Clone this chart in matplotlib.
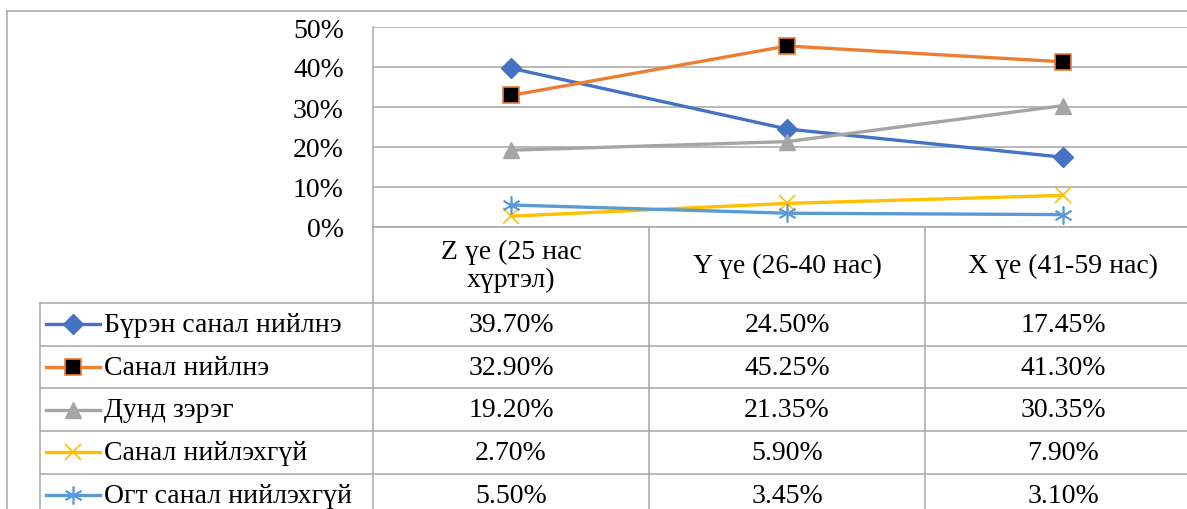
import matplotlib
matplotlib.use("Agg")
import matplotlib.pyplot as plt
from matplotlib.lines import Line2D

plt.rcParams['font.family'] = ['Liberation Serif', 'DejaVu Serif']

# data
categories = ["Z үе (25 нас\nхүртэл)", "Y үе (26-40 нас)", "X үе (41-59 нас)"]
series_names = ["Бүрэн санал нийлнэ", "Санал нийлнэ", "Дунд зэрэг",
                "Санал нийлэхгүй", "Огт санал нийлэхгүй"]
full_agree = [39.70, 24.50, 17.45]
agree = [32.90, 45.25, 41.30]
neutral = [19.20, 21.35, 30.35]
disagree = [2.70, 5.90, 7.90]
full_disagree = [5.50, 3.45, 3.10]
yticks = [0, 10, 20, 30, 40, 50]

series = [full_agree, agree, neutral, disagree, full_disagree]
styles = [
    dict(color="#4472C4", marker="D", ms=10, mfc="#4472C4", mec="#4472C4"),
    dict(color="#ED7D31", marker="s", ms=11, mfc="black", mec="#ED7D31", mew=1.2),
    dict(color="#A5A5A5", marker="^", ms=12, mfc="#A5A5A5", mec="#A5A5A5"),
    dict(color="#FFC000", marker="x", ms=11, mfc="#FFC000", mec="#FFC000", mew=1.2),
    dict(color="#5B9BD5", marker=(6, 2, 0), ms=13, mfc="#5B9BD5", mec="#5B9BD5", mew=1.2),
]

W, H = 1187, 510
fig = plt.figure(figsize=(W / 100, H / 100), dpi=100)
grey = "#A6A6A6"
fs = 20


def fx(px):
    return px / W


def fy(py):
    return 1 - py / H


def hline(y, x0, x1):
    fig.add_artist(Line2D([fx(x0), fx(x1)], [fy(y), fy(y)], color=grey, lw=1.1))


def vline(x, y0, y1):
    fig.add_artist(Line2D([fx(x), fx(x)], [fy(y0), fy(y1)], color=grey, lw=1.1))


# plot area
left, right, top, bottom = 373, 1201, 28, 228
ax = fig.add_axes([fx(left), fy(bottom), fx(right - left), (bottom - top) / H])
xs = list(range(len(categories)))
for vals, st in zip(series, styles):
    ax.plot(xs, [v / 100 for v in vals], lw=2.4, clip_on=False, zorder=3, **st)
ax.set_xlim(-0.5, len(categories) - 0.5)
ax.set_ylim(0, 0.5)
ax.set_yticks([t / 100 for t in yticks])
ax.set_yticklabels([f"{t}%" for t in yticks], fontsize=fs)
ax.tick_params(axis="y", length=0, pad=21)
ax.set_xticks([])
for s in ["top", "right", "bottom"]:
    ax.spines[s].set_visible(False)
ax.spines["left"].set_color(grey)
ax.spines["left"].set_linewidth(1.1)
ax.yaxis.grid(True, color=grey, lw=1.1)
ax.set_axisbelow(True)

# chart border
hline(12, 7, W + 20)
vline(7, 12, H + 20)

# data table
col_w = (right - left) / len(categories)
header_bottom = 304
row_h = 42.7
vline(left, bottom, H + 20)
for i in range(1, len(categories)):
    vline(left + i * col_w, bottom, H + 20)
hline(bottom, left, W + 20)
vline(40, header_bottom, H + 20)
for r in range(len(series) + 1):
    hline(header_bottom + r * row_h, 40, W + 20)

for i, cat in enumerate(categories):
    fig.text(fx(left + (i + 0.5) * col_w), fy((bottom + header_bottom) / 2), cat,
             ha="center", va="center", fontsize=fs, linespacing=1.15)

for r, (name, vals, st) in enumerate(zip(series_names, series, styles)):
    yc = header_bottom + (r + 0.5) * row_h
    fig.add_artist(Line2D([fx(46), fx(73), fx(100)], [fy(yc)] * 3, lw=2.4,
                          markevery=[1], **st))
    fig.text(fx(104), fy(yc), name, ha="left", va="center", fontsize=fs)
    for i, v in enumerate(vals):
        fig.text(fx(left + (i + 0.5) * col_w), fy(yc), f"{v:.2f}%",
                 ha="center", va="center", fontsize=fs)

fig.savefig("out.png", dpi=100)
